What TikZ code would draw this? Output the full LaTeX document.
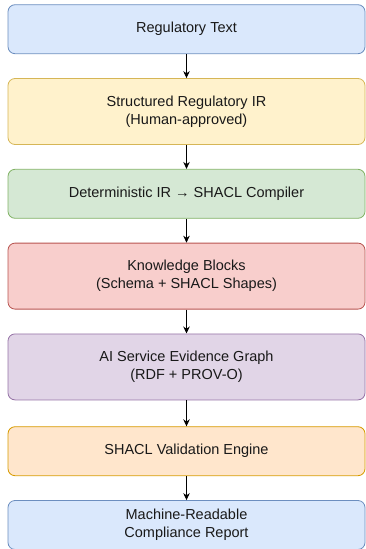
\documentclass[tikz,border=0pt]{standalone}
\usepackage{fontspec}
\setmainfont{Liberation Sans}
\usetikzlibrary{positioning,arrows.meta}
\definecolor{bluefill}{HTML}{DAE8FC}
\definecolor{bluedraw}{HTML}{6C8EBF}
\definecolor{yellowfill}{HTML}{FFF2CC}
\definecolor{yellowdraw}{HTML}{D6B656}
\definecolor{greenfill}{HTML}{D5E8D4}
\definecolor{greendraw}{HTML}{82B366}
\definecolor{redfill}{HTML}{F8CECC}
\definecolor{reddraw}{HTML}{B85450}
\definecolor{purplefill}{HTML}{E1D5E7}
\definecolor{purpledraw}{HTML}{9673A6}
\definecolor{orangefill}{HTML}{FFE6CC}
\definecolor{orangedraw}{HTML}{D79B00}
\begin{document}
\begin{tikzpicture}[
    x=1pt, y=1pt,
    node distance=24pt,
    every node/.style={draw, rounded corners=7pt, line width=0.8pt, minimum width=357pt,
        align=center, text=black!90, font=\fontsize{14.5}{18}\selectfont},
    short/.style={minimum height=49pt},
    tall/.style={minimum height=66pt},
    arr/.style={-{Stealth[length=7pt,width=6.5pt]}, line width=0.8pt}
]
\useasboundingbox (0,0) rectangle (365,-549);
\node[short, fill=bluefill, draw=bluedraw, anchor=north] (regtext) at (186.5,-4.3) {Regulatory Text};
\node[tall, fill=yellowfill, draw=yellowdraw, below=of regtext] (ir) {Structured Regulatory IR\\(Human-approved)};
\node[short, fill=greenfill, draw=greendraw, below=of ir] (compiler) {Deterministic IR → SHACL Compiler};
\node[tall, fill=redfill, draw=reddraw, below=of compiler] (blocks) {Knowledge Blocks\\(Schema + SHACL Shapes)};
\node[tall, fill=purplefill, draw=purpledraw, below=of blocks] (evidence) {AI Service Evidence Graph\\(RDF + PROV-O)};
\node[short, fill=orangefill, draw=orangedraw, below=26pt of evidence] (engine) {SHACL Validation Engine};
\node[short, fill=bluefill, draw=bluedraw, below=of engine] (report) {Machine-Readable\\Compliance Report};
% connectors
\draw[arr] (regtext) -- (ir);
\draw[arr] (ir) -- (compiler);
\draw[arr] (compiler) -- (blocks);
\draw[arr] (blocks) -- (evidence);
\draw[arr] (evidence) -- (engine);
\draw[arr] (engine) -- (report);
\end{tikzpicture}
\end{document}
